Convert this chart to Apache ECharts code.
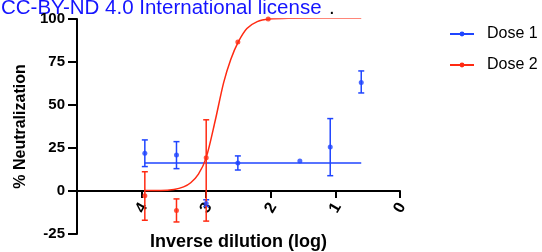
<!DOCTYPE html>
<html>
<head>
<meta charset="utf-8">
<script src="https://cdn.jsdelivr.net/npm/echarts@6/dist/echarts.min.js"></script>
<style>html,body{margin:0;padding:0;background:#fff}#c{width:542px;height:252px}</style>
</head>
<body>
<div id="c"></div>
<script>
// ---- data ----
const xTicks = [0, 1, 2, 3, 4];
const yTicks = [-25, 0, 25, 50, 75, 100];

const dose1X    = [3.95, 3.46, 3.0, 2.51, 1.55, 1.08, 0.6];
const dose1Y    = [22, 21, -7.2, 16.3, 17.5, 25.6, 63.1];
const dose1Low  = [14.2, 13, -9.0, 12.2, 17.5, 8.9, 57];
const dose1High = [29.7, 28.7, -5.1, 20.4, 17.5, 42.1, 69.8];
const dose1FitX = [3.95, 0.6];
const dose1FitY = [16.3, 16.3];

const dose2X    = [3.95, 3.46, 3.0, 2.51, 2.04];
const dose2Y    = [-2.8, -11.3, 19.4, 86.6, 100];
const dose2Low  = [-17.0, -18.0, -17.5, 86.6, 100];
const dose2High = [11.2, -4.6, 41.4, 86.6, 100];
const dose2FitX = [3.95, 3.7, 3.5, 3.35, 3.24, 3.12, 3.0, 2.86, 2.73, 2.62, 2.505, 2.37, 2.21, 2.03, 1.7, 1.2, 0.6];
const dose2FitY = [0.3, 0.3, 0.9, 2.4, 4.8, 9.8, 19.4, 41, 63, 76.5, 86.6, 94.5, 98.5, 100, 100.5, 100.6, 100.6];

const BLUE = '#1f45ff';
const RED = '#ff2a12';
const FONT = 'Liberation Sans';

function pairs(xs, ys) { return xs.map((x, i) => [x, ys[i]]); }
function errData(xs, lo, hi) {
  const out = [];
  xs.forEach((x, i) => { if (hi[i] !== lo[i]) out.push([x, lo[i], hi[i]]); });
  return out;
}
function errRender(color) {
  return function (params, api) {
    const x = api.value(0), lo = api.value(1), hi = api.value(2);
    const a = api.coord([x, hi]), b = api.coord([x, lo]);
    const w = 3;
    const st = { stroke: color, lineWidth: 1.5 };
    return {
      type: 'group',
      children: [
        { type: 'line', shape: { x1: a[0], y1: a[1], x2: b[0], y2: b[1] }, style: st },
        { type: 'line', shape: { x1: a[0] - w, y1: a[1], x2: a[0] + w, y2: a[1] }, style: st },
        { type: 'line', shape: { x1: b[0] - w, y1: b[1], x2: b[0] + w, y2: b[1] }, style: st }
      ]
    };
  };
}

const chart = echarts.init(document.getElementById('c'), null, { renderer: 'canvas' });
chart.setOption({
  animation: false,
  textStyle: { fontFamily: FONT },
  grid: { left: 77, right: 142, top: 19, bottom: 18, containLabel: false, outerBoundsMode: 'none' },
  xAxis: {
    type: 'value', min: 0, max: 5, interval: 1, inverse: true,
    offset: -43,
    name: 'Inverse dilution (log)', nameLocation: 'middle', nameGap: 42,
    nameTextStyle: { fontSize: 18, fontWeight: 'bold', color: '#000', fontFamily: FONT },
    axisLine: { show: true, onZero: false, lineStyle: { color: '#000', width: 2 } },
    axisTick: { show: true, length: 7, customValues: xTicks, lineStyle: { color: '#000', width: 2 } },
    axisLabel: { customValues: xTicks, rotate: 60, align: 'center', verticalAlign: 'middle',
      fontSize: 16, fontWeight: 'bold', color: '#000', margin: 17, fontFamily: FONT },
    splitLine: { show: false }
  },
  yAxis: {
    type: 'value', min: -25, max: 100, interval: 25,
    name: '% Neutralization', nameLocation: 'middle', nameGap: 44,
    nameTextStyle: { fontSize: 16, fontWeight: 'bold', color: '#000', fontFamily: FONT },
    axisLine: { show: true, onZero: false, lineStyle: { color: '#000', width: 2 } },
    axisTick: { show: true, length: 9, lineStyle: { color: '#000', width: 2 } },
    axisLabel: { fontSize: 15, fontWeight: 'bold', color: '#000', margin: 12, fontFamily: FONT,
      customValues: yTicks },
    splitLine: { show: false }
  },
  legend: {
    orient: 'vertical', left: 444, top: 21, itemGap: 15,
    itemWidth: 24, itemHeight: 6,
    data: ['Dose 1', 'Dose 2'],
    textStyle: { fontSize: 16, color: '#000', fontFamily: FONT, padding: [0, 0, 0, 8] }
  },
  graphic: [
    { type: 'text', left: 1, top: -2, style: { text: 'CC-BY-ND 4.0 International license', fill: '#1414ff', fontSize: 20.5, fontFamily: FONT } },
    { type: 'text', left: 329, top: -2, style: { text: '.', fill: '#000', fontSize: 20.5, fontFamily: FONT } }
  ],
  series: [
    { name: 'Dose 1', type: 'line', data: pairs(dose1FitX, dose1FitY), showSymbol: false, symbol: 'circle',
      lineStyle: { color: BLUE, width: 1.5 }, itemStyle: { color: BLUE }, z: 3 },
    { name: 'Dose 2', type: 'line', data: pairs(dose2FitX, dose2FitY), showSymbol: false, symbol: 'circle', smooth: 0.3,
      lineStyle: { color: RED, width: 1.5 }, itemStyle: { color: RED }, z: 3 },
    { name: 'Dose 1 err', type: 'custom', data: errData(dose1X, dose1Low, dose1High), renderItem: errRender(BLUE), z: 4 },
    { name: 'Dose 2 err', type: 'custom', data: errData(dose2X, dose2Low, dose2High), renderItem: errRender(RED), z: 4 },
    { name: 'Dose 1 pts', type: 'scatter', data: pairs(dose1X, dose1Y), symbol: 'circle', symbolSize: 5, itemStyle: { color: BLUE }, z: 5 },
    { name: 'Dose 2 pts', type: 'scatter', data: pairs(dose2X, dose2Y), symbol: 'circle', symbolSize: 5, itemStyle: { color: RED }, z: 5 }
  ]
});
</script>
</body>
</html>
